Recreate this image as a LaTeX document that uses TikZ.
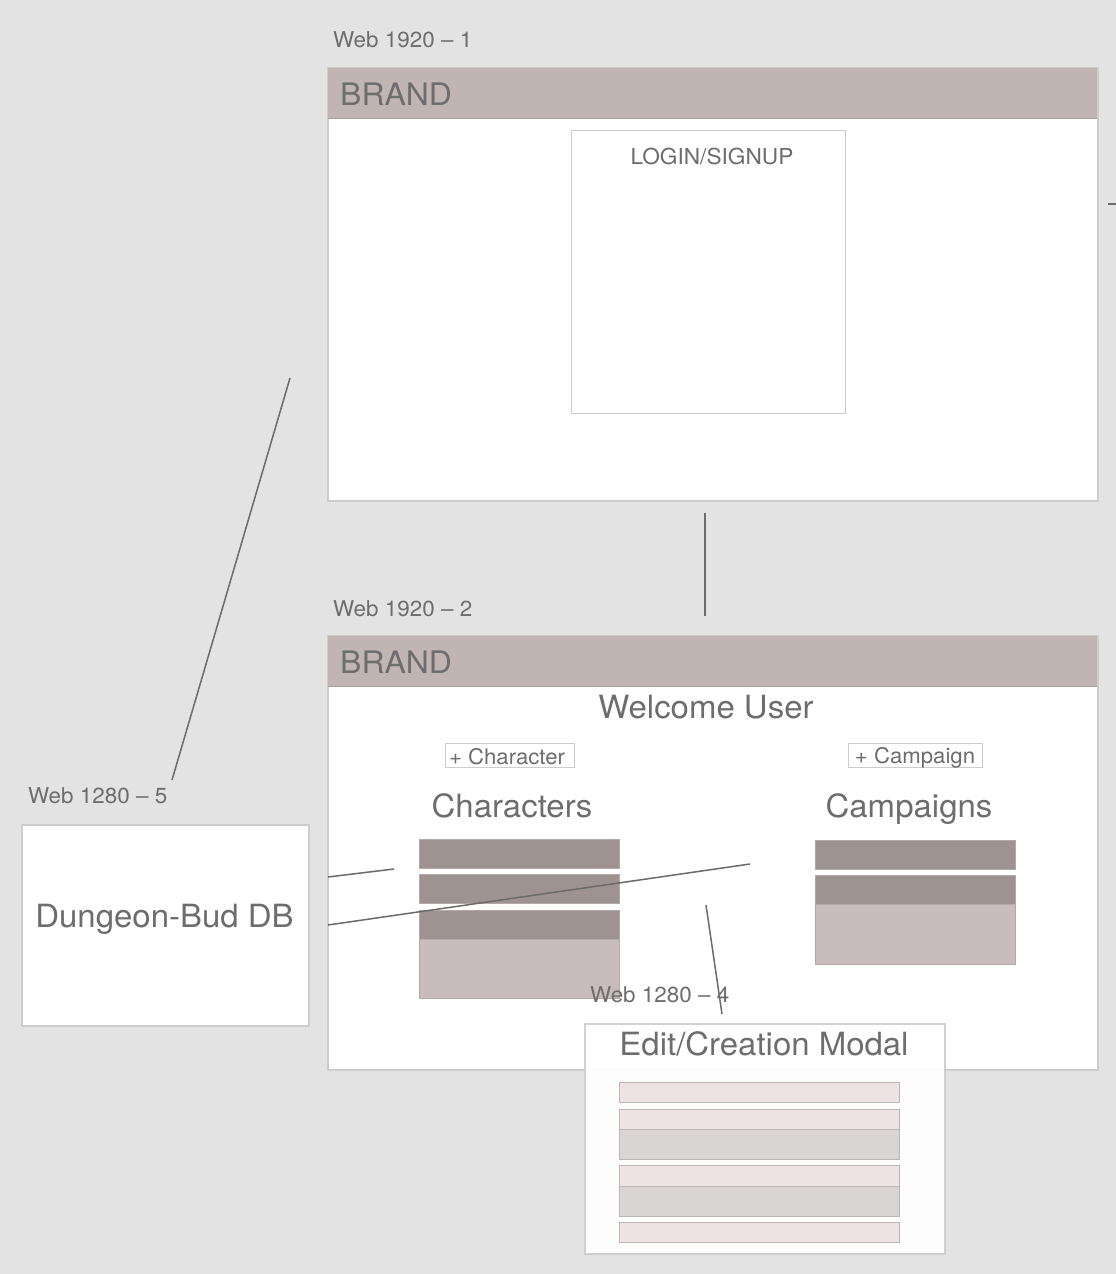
\documentclass[tikz,border=0pt]{standalone}
\usepackage{fontspec}
\setmainfont[FakeStretch=1.03]{TeX Gyre Heros}
\definecolor{bg}{HTML}{E3E3E3}
\definecolor{bordergray}{HTML}{CDCDCD}
\definecolor{headfill}{HTML}{C1B5B4}
\definecolor{headline}{HTML}{A89E9D}
\definecolor{txt}{HTML}{6D6D6D}
\definecolor{darkrow}{HTML}{9E9391}
\definecolor{lightrow}{HTML}{C8BDBC}
\definecolor{rowline}{HTML}{B3A9A8}
\definecolor{pinkrow}{HTML}{EDE3E3}
\definecolor{grayrow}{HTML}{D9D5D5}
\definecolor{mrowline}{HTML}{BBB5B5}
\definecolor{conn}{HTML}{6B6B6B}
\begin{document}
\begin{tikzpicture}[x=1pt,y=-1pt,
  page/.style={draw=bordergray, line width=1.5pt, fill=white, inner sep=0pt, anchor=north west, rectangle},
  header/.style={fill=headfill, inner sep=0pt, anchor=north west, rectangle},
  headerline/.style={draw=headline, line width=1pt},
  inbox/.style={draw=bordergray, line width=1pt, fill=white, inner sep=0pt, anchor=north west, rectangle},
  btnbox/.style={draw=bordergray, line width=1pt, fill=white, inner sep=0pt, anchor=north west, rectangle},
  drowbox/.style={fill=darkrow, draw=rowline, line width=0.6pt, inner sep=0pt, anchor=north west, rectangle},
  lrowbox/.style={fill=lightrow, draw=rowline, line width=0.6pt, inner sep=0pt, anchor=north west, rectangle},
  prowbox/.style={fill=pinkrow, draw=mrowline, line width=0.8pt, inner sep=0pt, anchor=north west, rectangle},
  growbox/.style={fill=grayrow, draw=mrowline, line width=0.8pt, inner sep=0pt, anchor=north west, rectangle},
  smalltxt/.style={inner sep=0pt, anchor=base west, text=txt, font=\fontsize{21.8}{25}\selectfont},
  midtxt/.style={inner sep=0pt, anchor=base, text=txt, font=\fontsize{21.5}{25}\selectfont},
  bigtxt/.style={inner sep=0pt, anchor=base, text=txt, font=\fontsize{32}{38}\selectfont},
  brandtxt/.style={inner sep=0pt, anchor=base west, text=txt, font=\fontsize{31}{38}\selectfont},
  connector/.style={draw=conn, line width=1.5pt}
]
\fill[bg] (0,0) rectangle (1116,1274);
\useasboundingbox (0,0) rectangle (1116,1274);

% ---------- Page 1 ----------
\node[smalltxt] (t1) at (333,47) {Web 1920 – 1};
\node[page, minimum width=770, minimum height=433] (p1) at (327,67) {};
\node[header, minimum width=769, minimum height=50] (h1) at (328,68) {};
\draw[headerline] (h1.south west) -- (h1.south east);
\node[brandtxt] (b1) at (340,105) {BRAND};
\node[inbox, minimum width=274, minimum height=283] (login) at (571,130) {};
\node[midtxt, font=\fontsize{22}{26}\selectfont] (logintxt) at (712,164) {LOGIN/SIGNUP};

% ---------- Page 2 ----------
\node[smalltxt] (t2) at (333,616) {Web 1920 – 2};
\node[page, minimum width=770, minimum height=434] (p2) at (327,635) {};
\node[header, minimum width=769, minimum height=50] (h2) at (328,636) {};
\draw[headerline] (h2.south west) -- (h2.south east);
\node[brandtxt] (b2) at (340,673) {BRAND};
\node[bigtxt] (welcome) at (706,718) {Welcome User};

\node[btnbox, minimum width=129, minimum height=24] (btnchar) at (445,743) {};
\node[midtxt] (btnchartxt) at (507,764) {+ Character};
\node[btnbox, minimum width=134, minimum height=24] (btncamp) at (848,743) {};
\node[midtxt] (btncamptxt) at (915,763) {+ Campaign};

\node[bigtxt] (chars) at (512,817) {Characters};
\node[bigtxt] (camps) at (909,817) {Campaigns};

% character list
\node[drowbox, minimum width=200, minimum height=29] (cr1) at (419,839) {};
\node[drowbox, minimum width=200, minimum height=29] (cr2) at (419,874) {};
\node[lrowbox, minimum width=200, minimum height=88] (cr3) at (419,910) {};
\node[drowbox, minimum width=200, minimum height=29] (cr3h) at (419,910) {};

% campaign list
\node[drowbox, minimum width=200, minimum height=29] (pr1) at (815,840) {};
\node[lrowbox, minimum width=200, minimum height=89] (pr2) at (815,875) {};
\node[drowbox, minimum width=200, minimum height=29] (pr2h) at (815,875) {};

% ---------- DB ----------
\node[smalltxt] (t5) at (28,803) {Web 1280 – 5};
\node[page, minimum width=287, minimum height=201] (db) at (21,824) {};
\node[bigtxt] (dbtxt) at (164.5,927) {Dungeon-Bud DB};

% ---------- connectors ----------
\coordinate (c1a) at (705,513);
\coordinate (c1b) at (705,616);
\draw[connector] (c1a) -- (c1b);
\coordinate (c2a) at (290,378);
\coordinate (c2b) at (172,780);
\draw[connector] (c2a) -- (c2b);
\coordinate (c3a) at (328,877);
\coordinate (c3b) at (394,869);
\draw[connector] (c3a) -- (c3b);
\coordinate (c4a) at (328,925);
\coordinate (c4b) at (750,864);
\draw[connector] (c4a) -- (c4b);
\coordinate (c5a) at (1108,204);
\coordinate (c5b) at (1116,204);
\draw[connector] (c5a) -- (c5b);

% ---------- Modal ----------
\node[smalltxt] (t4) at (590,1002) {Web 1280 – 4};
\coordinate (c6a) at (706,905);
\coordinate (c6b) at (722,1014);
\draw[connector] (c6a) -- (c6b);
\node[page, fill opacity=0.93, draw opacity=0.9, line width=2pt, minimum width=360, minimum height=230] (modal) at (584,1023) {};
\node[bigtxt] (modaltxt) at (764,1055) {Edit/Creation Modal};
\node[prowbox, minimum width=280, minimum height=20] (m1) at (619,1082) {};
\node[growbox, minimum width=280, minimum height=50] (m2) at (619,1109) {};
\node[prowbox, minimum width=280, minimum height=20] (m2h) at (619,1109) {};
\node[growbox, minimum width=280, minimum height=51] (m3) at (619,1165) {};
\node[prowbox, minimum width=280, minimum height=21] (m3h) at (619,1165) {};
\node[prowbox, minimum width=280, minimum height=20] (m4) at (619,1222) {};
\end{tikzpicture}
\end{document}
